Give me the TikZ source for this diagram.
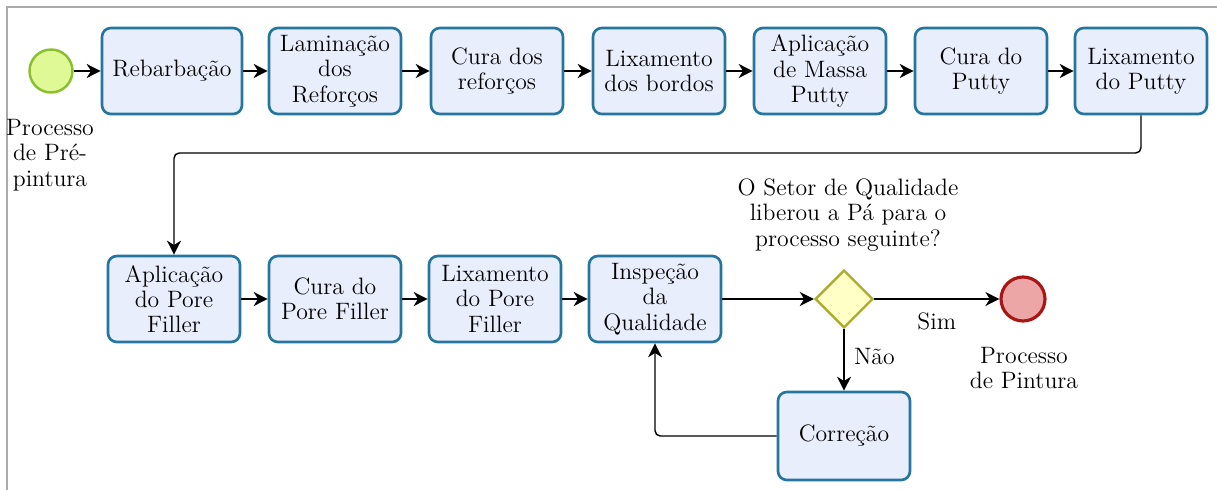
\documentclass[tikz,border=0pt]{standalone}
\usetikzlibrary{shapes.geometric, arrows.meta}

\definecolor{taskfill}{RGB}{233,238,252}
\definecolor{taskline}{RGB}{36,118,158}
\definecolor{startfill}{RGB}{222,249,150}
\definecolor{startline}{RGB}{138,192,48}
\definecolor{endfill}{RGB}{236,166,166}
\definecolor{endline}{RGB}{168,22,22}
\definecolor{gatefill}{RGB}{255,255,198}
\definecolor{gateline}{RGB}{172,172,48}
\definecolor{framegray}{RGB}{170,170,170}

\begin{document}
\begin{tikzpicture}[x=0.02cm, y=-0.02cm,
    txt/.style={font=\fontsize{13.5}{14.4}\selectfont, align=center},
    task/.style={txt, draw=taskline, fill=taskfill, line width=1.5pt, rounded corners=5pt,
        minimum width=2.64cm, minimum height=1.72cm, inner sep=1pt},
    flow/.style={-{Stealth[length=8pt, width=8pt, inset=2.5pt]}, line width=0.8pt},
    ]
    \useasboundingbox (0,0) rectangle (1217,490);

    % Frame
    \draw[framegray, line width=1.2pt] (7,490) -- (7,7) -- (1217,7);

    % Start and end events
    \node[circle, draw=startline, fill=startfill, line width=1.4pt, minimum size=0.86cm, inner sep=0pt] (inicio) at (51,71) {};
    \node[txt] (inicioLabel) at (50,155) {Processo\\de Pré-\\pintura};
    \node[circle, draw=endline, fill=endfill, line width=1.8pt, minimum size=0.88cm, inner sep=0pt] (fim) at (1023,299) {};
    \node[txt] (fimLabel) at (1024,368) {Processo\\de Pintura};

    % First row of tasks
    \node[task, minimum width=2.8cm] (rebarb) at (172,71) {Rebarbação};
    \node[task] (lamin) at (335,71) {Laminação\\dos\\Reforços};
    \node[task] (curaRef) at (497,71) {Cura dos\\reforços};
    \node[task] (lixBordos) at (659,71) {Lixamento\\dos bordos};
    \node[task] (aplMassa) at (820,71) {Aplicação\\de Massa\\Putty};
    \node[task] (curaPutty) at (981,71) {Cura do\\Putty};
    \node[task] (lixPutty) at (1141,71) {Lixamento\\do Putty};

    % Second row of tasks
    \node[task] (aplPore) at (174,299) {Aplicação\\do Pore\\Filler};
    \node[task] (curaPore) at (335,299) {Cura do\\Pore Filler};
    \node[task] (lixPore) at (495,299) {Lixamento\\do Pore\\Filler};
    \node[task] (inspecao) at (655,299) {Inspeção\\da\\Qualidade};
    \node[task, minimum height=1.76cm] (correcao) at (844,436) {Correção};

    % Gateway
    \node[diamond, draw=gateline, fill=gatefill, line width=1.4pt, minimum size=1.16cm, inner sep=0pt] (gate) at (844,299) {};
    \node[txt] (gateLabel) at (848,215) {O Setor de Qualidade\\liberou a Pá para o\\processo seguinte?};

    % Flows
    \draw[flow] (inicio) -- (rebarb);
    \draw[flow] (rebarb) -- (lamin);
    \draw[flow] (lamin) -- (curaRef);
    \draw[flow] (curaRef) -- (lixBordos);
    \draw[flow] (lixBordos) -- (aplMassa);
    \draw[flow] (aplMassa) -- (curaPutty);
    \draw[flow] (curaPutty) -- (lixPutty);
    \coordinate (voltaA) at (1141,153);
    \coordinate (voltaB) at (174,153);
    \draw[flow, rounded corners=3pt] (lixPutty.south) -- (voltaA) -- (voltaB) -- (aplPore.north);
    \draw[flow] (aplPore) -- (curaPore);
    \draw[flow] (curaPore) -- (lixPore);
    \draw[flow] (lixPore) -- (inspecao);
    \draw[flow] (inspecao) -- (gate);
    \draw[flow] (gate) -- (fim) node[txt, pos=0.5, below=4pt] {Sim};
    \draw[flow] (gate) -- (correcao) node[txt, pos=0.45, right=2pt] {Não};
    \coordinate (voltaC) at (655,436);
    \draw[flow, rounded corners=3pt] (correcao.west) -- (voltaC) -- (inspecao.south);
\end{tikzpicture}
\end{document}
